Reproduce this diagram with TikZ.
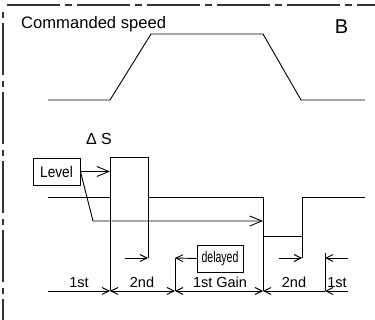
\documentclass[tikz,border=0pt]{standalone}
\usepackage{fontspec}
\setmainfont{Liberation Sans}
\newfontfamily\narrowA[FakeStretch=0.88]{Liberation Sans}
\newfontfamily\narrowB[FakeStretch=0.68]{Liberation Sans}
\usetikzlibrary{arrows.meta}
\begin{document}
\begin{tikzpicture}[x=1pt,y=-1pt,
  ln/.style={line width=0.9pt, black},
  border/.style={line width=1.1pt, black!80},
  sarr/.style={-{Straight Barb[length=7pt,width=7pt,line width=0.9pt]}},
  darr/.style={{Straight Barb[length=7pt,width=7pt,line width=0.9pt]}-{Straight Barb[length=7pt,width=7pt,line width=0.9pt]}},
  larr/.style={-{Straight Barb[length=12pt,width=10pt,line width=0.9pt]}},
  lbl/.style={inner sep=0pt, anchor=base, font=\fontsize{14.5}{17}\selectfont},
  boxnode/.style={draw, line width=0.9pt, inner sep=0pt, minimum height=27pt}
]
\useasboundingbox (0,0) rectangle (375,320);

% frame
\draw[border, dash pattern=on 53pt off 5pt on 7pt off 5pt] (7,5) -- (375,5);
\draw[border, dash pattern=on 6pt off 5pt on 52pt off 6pt] (3,12) -- (3,320);

% texts
\node[inner sep=0pt, anchor=base west, font=\fontsize{16.6}{20}\selectfont] (cmd) at (21,29) {Commanded speed};
\node[inner sep=0pt, anchor=base, font=\fontsize{20}{24}\selectfont] (B) at (341.5,33.3) {B};
\node[inner sep=0pt, anchor=base, font=\fontsize{16}{19}\selectfont] (dS) at (99,145) {Δ S};

% commanded speed profile
\coordinate (s1) at (48,100);
\coordinate (s2) at (110,100);
\coordinate (s3) at (151,34);
\coordinate (s4) at (263,34);
\coordinate (s5) at (301,100);
\coordinate (s6) at (365,100);
\draw[ln] (s1) -- (s2) -- (s3) -- (s4) -- (s5) -- (s6);

% actual signal
\coordinate (a1) at (48,197);
\coordinate (a2) at (110,197);
\coordinate (a3) at (110,157);
\coordinate (a4) at (148,157);
\coordinate (a5) at (148,197);
\coordinate (a6) at (263,197);
\coordinate (a7) at (263,236);
\coordinate (a8) at (302,236);
\coordinate (a9) at (302,197);
\coordinate (a10) at (365,197);
\draw[ln] (a1) -- (a2) -- (a3) -- (a4) -- (a5) -- (a6) -- (a7) -- (a8) -- (a9) -- (a10);

% bottom dimension points
\coordinate (b0) at (48,291);
\coordinate (b1) at (110,291);
\coordinate (b2) at (175,291);
\coordinate (b3) at (263,291);
\coordinate (b4) at (325,291);
\coordinate (b5) at (348,291);

% second row points
\coordinate (t1) at (125,258);
\coordinate (t2) at (148,258);
\coordinate (q1) at (175,258);
\coordinate (t3) at (279,258);
\coordinate (t4) at (302,258);
\coordinate (t5) at (348,258);
\coordinate (t6) at (325,258);
\coordinate (t7) at (325,253);

% vertical markers
\draw[ln] (a2) -- (b1);
\draw[ln] (a5) -- (t2);
\draw[ln] (a7) -- (b3);
\draw[ln] (a8) -- (t4);
\draw[ln] (q1) -- (b2);
\draw[ln] (t7) -- (b4);

% level box and arrows
\node[boxnode, minimum width=47pt, font=\narrowA\fontsize{15.5}{18}\selectfont] (level) at (56.5,171.5) {Level};
\coordinate (pl) at (110,171.5);
\coordinate (d1) at (93,221);
\coordinate (d2) at (263,221);
\draw[ln, larr] (level.east) -- (pl);
\draw[ln, larr] (level.east) -- (d1) -- (d2);

% delayed box
\node[boxnode, minimum width=46pt, font=\narrowB\fontsize{15.5}{18}\selectfont] (delayed) at (220,258.5) {delayed};
\draw[ln, sarr] (delayed.west) -- (q1);

% second row arrows
\draw[ln, sarr] (t1) -- (t2);
\draw[ln, sarr] (t3) -- (t4);
\draw[ln, sarr] (t5) -- (t6);

% bottom row
\draw[ln, sarr] (b0) -- (b1);
\draw[ln, darr] (b1) -- (b2);
\draw[ln, darr] (b2) -- (b3);
\draw[ln, sarr] (b4) -- (b3);
\draw[ln, sarr] (b5) -- (b4);

% labels
\node[lbl] (l1) at (79,288) {1st};
\node[lbl] (l2) at (142,288) {2nd};
\node[lbl] (l3) at (220,288) {1st Gain};
\node[lbl] (l4) at (294,288) {2nd};
\node[lbl] (l5) at (337,288) {1st};
\end{tikzpicture}
\end{document}
